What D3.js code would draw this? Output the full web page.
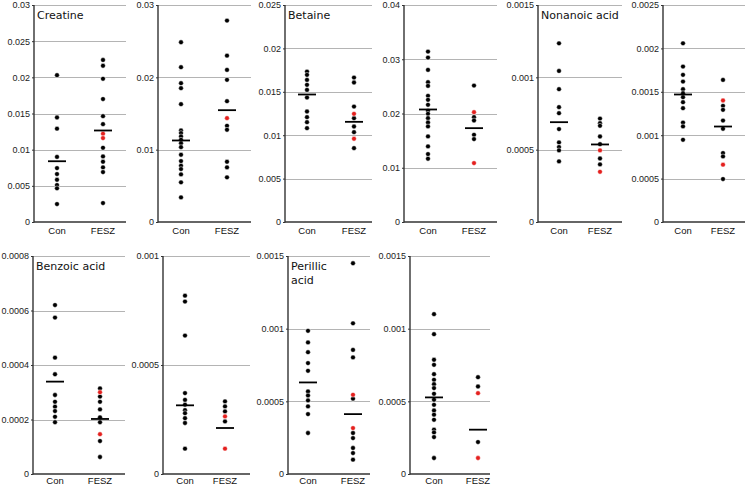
<!DOCTYPE html>
<html><head><meta charset="utf-8">
<script src="https://cdn.jsdelivr.net/npm/d3@7"></script>
<style>body{margin:0;background:#fff}svg{display:block}</style>
</head><body>
<script>
const categories = ["Con", "FESZ"];
const titles = ["Creatine", "", "Betaine", "", "Nonanoic acid", "", "Benzoic acid", "", "Perillic acid", ""];

// Panel 1 - Creatine
const p1Con = [0.0203, 0.01445, 0.0129, 0.009, 0.00745, 0.00663, 0.00584, 0.00511, 0.00465, 0.00248];
const p1Fesz = [0.0224, 0.0216, 0.0198, 0.0170, 0.01463, 0.01353, 0.01026, 0.00906, 0.00833, 0.00755, 0.0069, 0.00262];
const p1FeszRed = [0.0122, 0.0116];
const p1Means = [0.0084, 0.01265];
const p1Ticks = [0, 0.005, 0.01, 0.015, 0.02, 0.025, 0.03];
const p1TickLabels = ["0", "0.005", "0.01", "0.015", "0.02", "0.025", "0.03"];

// Panel 2
const p2Con = [0.02485, 0.0214, 0.01919, 0.0185, 0.01629, 0.01265, 0.01229, 0.01183, 0.01137, 0.0109, 0.01035, 0.0093, 0.00842, 0.00778, 0.00732, 0.00658, 0.00548, 0.0034];
const p2Fesz = [0.02784, 0.023, 0.02103, 0.01965, 0.0167, 0.0133, 0.01275, 0.00833, 0.00755, 0.00617];
const p2FeszRed = [0.01436];
const p2Means = [0.01127, 0.01546];
const p2Ticks = [0, 0.01, 0.02, 0.03];
const p2TickLabels = ["0", "0.01", "0.02", "0.03"];

// Panel 3 - Betaine
const p3Con = [0.01733, 0.01695, 0.01637, 0.0158, 0.01522, 0.01434, 0.01273, 0.01208, 0.0115, 0.01081];
const p3Fesz = [0.01664, 0.01607, 0.0133, 0.01196, 0.011, 0.01035, 0.00851];
const p3FeszRed = [0.01246, 0.00959];
const p3Means = [0.01469, 0.01154];
const p3Ticks = [0, 0.005, 0.01, 0.015, 0.02, 0.025];
const p3TickLabels = ["0", "0.005", "0.01", "0.015", "0.02", "0.025"];

// Panel 4
const p4Con = [0.03141, 0.03031, 0.02804, 0.02577, 0.02509, 0.02325, 0.02252, 0.0216, 0.02049, 0.01994, 0.01914, 0.01834, 0.01761, 0.01577, 0.01393, 0.01252, 0.01166];
const p4Fesz = [0.02515, 0.01933, 0.01871, 0.01607, 0.01528];
const p4FeszRed = [0.02025, 0.01086];
const p4Means = [0.02074, 0.0173];
const p4Ticks = [0, 0.01, 0.02, 0.03, 0.04];
const p4TickLabels = ["0", "0.01", "0.02", "0.03", "0.04"];

// Panel 5 - Nonanoic acid
const p5Con = [0.001235, 0.001044, 0.000918, 0.000794, 0.000752, 0.000642, 0.00055, 0.000518, 0.000495, 0.000419];
const p5Fesz = [0.000715, 0.000683, 0.000665, 0.000591, 0.000538, 0.000439, 0.000398];
const p5FeszRed = [0.000495, 0.000347];
const p5Means = [0.00069, 0.000536];
const p5Ticks = [0, 0.0005, 0.001, 0.0015];
const p5TickLabels = ["0", "0.0005", "0.001", "0.0015"];

// Panel 6
const p6Con = [0.002059, 0.001791, 0.001695, 0.001618, 0.00153, 0.001484, 0.001438, 0.00138, 0.001311, 0.001146, 0.001101, 0.000947];
const p6Fesz = [0.001637, 0.001338, 0.001292, 0.001169, 0.001074, 0.000794, 0.000755, 0.000495];
const p6FeszRed = [0.0014, 0.00066];
const p6Means = [0.001469, 0.0011];
const p6Ticks = [0, 0.0005, 0.001, 0.0015, 0.002, 0.0025];
const p6TickLabels = ["0", "0.0005", "0.001", "0.0015", "0.002", "0.0025"];

// Panel 7 - Benzoic acid
const p7Con = [0.00062, 0.000574, 0.000427, 0.000366, 0.00029, 0.000265, 0.000247, 0.000231, 0.00021, 0.00019];
const p7Fesz = [0.000314, 0.000284, 0.000265, 0.000237, 0.000208, 0.00019, 0.000121, 0.0000624];
const p7FeszRed = [0.0003, 0.000146];
const p7Means = [0.000339, 0.000202];
const p7Ticks = [0, 0.0002, 0.0004, 0.0006, 0.0008];
const p7TickLabels = ["0", "0.0002", "0.0004", "0.0006", "0.0008"];

// Panel 8
const p8Con = [0.000818, 0.000791, 0.000635, 0.000371, 0.00034, 0.000318, 0.000293, 0.000279, 0.000256, 0.000234, 0.000116];
const p8Fesz = [0.000333, 0.00031, 0.000287, 0.000241];
const p8FeszRed = [0.000264, 0.000116];
const p8Means = [0.000315, 0.000211];
const p8Ticks = [0, 0.0005, 0.001];
const p8TickLabels = ["0", "0.0005", "0.001"];

// Panel 9 - Perillic acid
const p9Con = [0.000985, 0.000905, 0.000838, 0.000763, 0.00071, 0.000568, 0.00054, 0.000506, 0.000465, 0.000412, 0.000282];
const p9Fesz = [0.00145, 0.001037, 0.000854, 0.000802, 0.000518, 0.000282, 0.000247, 0.000179, 0.000144, 0.0000985];
const p9FeszRed = [0.000545, 0.000316];
const p9Means = [0.00063, 0.000412];
const p9Ticks = [0, 0.0005, 0.001, 0.0015];
const p9TickLabels = ["0", "0.0005", "0.001", "0.0015"];

// Panel 10
const p10Con = [0.0011, 0.000962, 0.000786, 0.000751, 0.000687, 0.000648, 0.000618, 0.000591, 0.000552, 0.000511, 0.000476, 0.000437, 0.000408, 0.000373, 0.000305, 0.000286, 0.000254, 0.00011];
const p10Fesz = [0.000666, 0.000602, 0.00022];
const p10FeszRed = [0.000556, 0.00011];
const p10Means = [0.000527, 0.000305];
const p10Ticks = [0, 0.0005, 0.001, 0.0015];
const p10TickLabels = ["0", "0.0005", "0.001", "0.0015"];

const panelData = [
  [p1Con, p1Fesz, p1FeszRed, p1Means, p1Ticks, p1TickLabels],
  [p2Con, p2Fesz, p2FeszRed, p2Means, p2Ticks, p2TickLabels],
  [p3Con, p3Fesz, p3FeszRed, p3Means, p3Ticks, p3TickLabels],
  [p4Con, p4Fesz, p4FeszRed, p4Means, p4Ticks, p4TickLabels],
  [p5Con, p5Fesz, p5FeszRed, p5Means, p5Ticks, p5TickLabels],
  [p6Con, p6Fesz, p6FeszRed, p6Means, p6Ticks, p6TickLabels],
  [p7Con, p7Fesz, p7FeszRed, p7Means, p7Ticks, p7TickLabels],
  [p8Con, p8Fesz, p8FeszRed, p8Means, p8Ticks, p8TickLabels],
  [p9Con, p9Fesz, p9FeszRed, p9Means, p9Ticks, p9TickLabels],
  [p10Con, p10Fesz, p10FeszRed, p10Means, p10Ticks, p10TickLabels]
];

// layout: axis x, right end, Con x, FESZ x, row
const layout = [
  {ax: 34, right: 126, cx: 57, fx: 103, row: 0},
  {ax: 158, right: 251, cx: 181, fx: 227, row: 0},
  {ax: 285, right: 372, cx: 307, fx: 354, row: 0},
  {ax: 404, right: 497, cx: 428, fx: 474, row: 0},
  {ax: 538, right: 622, cx: 559, fx: 600, row: 0},
  {ax: 663, right: 745, cx: 683, fx: 723, row: 0},
  {ax: 33, right: 125, cx: 55, fx: 100, row: 1},
  {ax: 163, right: 250, cx: 185, fx: 225, row: 1},
  {ax: 288, right: 370, cx: 308, fx: 353, row: 1},
  {ax: 410, right: 490, cx: 434, fx: 478, row: 1}
];
const rows = [{top: 5, zero: 222, label: 234}, {top: 256, zero: 474, label: 484}];

const svg = d3.select("body").append("svg").attr("width", 745).attr("height", 486);
const RED = "#e4201e";

panelData.forEach((pd, i) => {
  const [con, fesz, feszRed, means, ticks, tickLabels] = pd;
  const L = layout[i], R = rows[L.row];
  const y = d3.scaleLinear().domain([0, ticks[ticks.length - 1]]).range([R.zero, R.top]);
  const x = d3.scalePoint().domain(categories).range([L.cx, L.fx]);
  const g = svg.append("g");

  // gridlines
  g.selectAll("line.grid").data(ticks.slice(1)).join("line")
    .attr("x1", L.ax).attr("x2", L.right)
    .attr("y1", d => Math.round(y(d)) + 0.5).attr("y2", d => Math.round(y(d)) + 0.5)
    .attr("stroke", "#b4b4b4").attr("stroke-width", 1);

  // y axis
  const axis = d3.axisLeft(y).tickValues(ticks).tickSize(2)
    .tickFormat((d, k) => tickLabels[k]);
  const ag = g.append("g").attr("transform", `translate(${L.ax},0)`).call(axis);
  ag.select(".domain").remove();
  ag.selectAll(".tick line").attr("stroke", "#333");
  ag.selectAll(".tick text").attr("font-family", "Liberation Sans, Arial, sans-serif")
    .attr("font-size", 9).attr("fill", "#222").attr("x", -4);

  g.append("line").attr("x1", L.ax).attr("x2", L.ax).attr("y1", R.top).attr("y2", R.zero + 0.5)
    .attr("stroke", "#333").attr("stroke-width", 1.4);
  g.append("line").attr("x1", L.ax).attr("x2", L.right).attr("y1", R.zero).attr("y2", R.zero)
    .attr("stroke", "#333").attr("stroke-width", 1.4);

  // category labels
  g.selectAll("text.cat").data(categories).join("text")
    .attr("x", d => x(d)).attr("y", R.label).attr("text-anchor", "middle")
    .attr("font-family", "Liberation Sans, Arial, sans-serif").attr("font-size", 9.5)
    .attr("fill", "#111").text(d => d);

  // dots
  const dots = con.map(v => ({c: "Con", v, red: false}))
    .concat(fesz.map(v => ({c: "FESZ", v, red: false})))
    .concat(feszRed.map(v => ({c: "FESZ", v, red: true})));
  g.selectAll("circle").data(dots).join("circle")
    .attr("cx", d => x(d.c)).attr("cy", d => y(d.v)).attr("r", 2.4)
    .attr("fill", d => d.red ? RED : "#000")
    .attr("stroke", "#fff").attr("stroke-width", 0.5);

  // means
  g.selectAll("line.mean").data(means).join("line")
    .attr("x1", (d, k) => x(categories[k]) - 9).attr("x2", (d, k) => x(categories[k]) + 9)
    .attr("y1", d => y(d)).attr("y2", d => y(d))
    .attr("stroke", "#000").attr("stroke-width", 1.8);

  // title
  const t = titles[i];
  if (t) {
    const lines = t === "Perillic acid" ? ["Perillic", "acid"] : [t];
    lines.forEach((s, k) => {
      g.append("text").attr("x", L.ax + 3).attr("y", R.top + 14 + k * 14)
        .attr("font-family", "DejaVu Sans, Verdana, sans-serif").attr("font-size", 11)
        .attr("fill", "#111").text(s);
    });
  }
});
</script>
</body></html>
